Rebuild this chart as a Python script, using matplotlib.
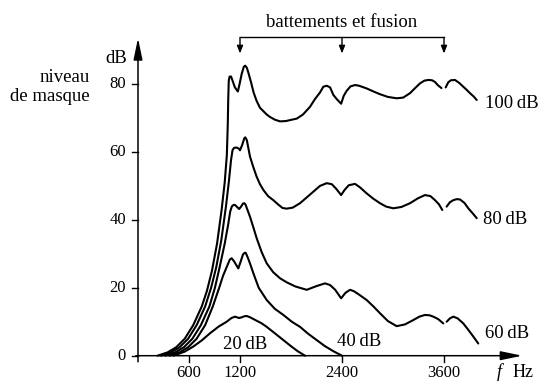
"""Masking curves of a harmonic complex: masking level vs frequency for several masker levels."""

import matplotlib.pyplot as plt

NAN = float("nan")

# 100 dB masker (NaN = break in the curve near 3600 Hz)
freq_100 = [230, 350, 450, 550, 650, 750, 810, 870, 930, 984, 1020, 1045, 1056, 1062, 1068,
            1078, 1095, 1115, 1140, 1175, 1195, 1220, 1245, 1262, 1280, 1300, 1330, 1360, 1396,
            1435, 1475, 1515, 1553, 1610, 1671, 1740, 1810, 1867, 1940, 2024, 2080, 2141, 2180,
            2220, 2260, 2298, 2340, 2390, 2420, 2455, 2500, 2553, 2600, 2690, 2770, 2847, 2940,
            3043, 3120, 3200, 3260, 3318, 3370, 3416, 3460, 3494, 3530, 3570, NAN,
            3620, 3650, 3680, 3729, 3780, 3827, 3870, 3906, 3950, 3985]
level_100 = [0, 1, 2.5, 5, 9, 14.5, 19, 25, 33, 43, 51, 59, 68, 76, 81,
             82.2, 82.2, 80.8, 79, 77.8, 80, 83, 85.1, 85.4, 84.8, 83.2, 80.5, 77.5, 75,
             73, 72, 71, 70.3, 69.5, 69, 69.1, 69.5, 69.8, 71, 73.3, 75.5, 77.5, 79.2,
             79.5, 79, 76.8, 75.5, 74.2, 76.5, 78, 79.3, 79.7, 79.5, 78.7, 77.8, 77, 76.2,
             75.8, 76, 77.3, 78.8, 80.2, 81, 81.2, 81.1, 80.6, 79.6, 78.8, NAN,
             79, 80.5, 81.1, 81.2, 80.3, 79.2, 78.2, 77.3, 76.3, 75.3]

# 80 dB masker
freq_80 = [270, 390, 490, 590, 690, 790, 860, 920, 980, 1035, 1070, 1094, 1112, 1130, 1160,
           1185, 1200, 1225, 1250, 1262, 1280, 1318, 1357, 1396, 1435, 1475, 1530, 1592, 1650,
           1700, 1749, 1820, 1906, 1980, 2063, 2141, 2220, 2280, 2330, 2390, 2430, 2480, 2553,
           2610, 2690, 2770, 2847, 2920, 3004, 3100, 3200, 3290, 3376, 3440, 3494, 3540, 3580, NAN,
           3631, 3670, 3710, 3750, 3788, 3840, 3886, 3935, 3985]
level_80 = [0, 1, 2.5, 5, 9, 14.5, 20, 26, 34, 44, 51.5, 57.5, 60.5, 61.2, 61.3,
            61, 60.5, 62, 64, 64.3, 63.5, 58.6, 55.5, 52.7, 50.5, 48.8, 47, 45.8, 44.5,
            43.5, 43.3, 43.6, 44.9, 46.5, 48.3, 50, 50.8, 50.5, 49.2, 47.3, 48.8, 50.2, 50.6,
            49.6, 47.8, 46.2, 44.9, 43.9, 43.4, 43.8, 44.9, 46.3, 47.3, 47, 45.8, 44.6, 42.9, NAN,
            43.9, 45.2, 45.8, 46.1, 46, 45, 43.4, 42, 40.5]

# 60 dB masker
freq_60 = [320, 440, 540, 640, 740, 840, 905, 960, 1020, 1060, 1085, 1105, 1125, 1141, 1165,
           1190, 1215, 1235, 1250, 1265, 1290, 1318, 1357, 1396, 1455, 1514, 1590, 1671, 1750,
           1850, 1985, 2100, 2200, 2260, 2320, 2390, 2440, 2494, 2540, 2600, 2690, 2770, 2847,
           2940, 3043, 3140, 3239, 3310, 3376, 3430, 3474, 3530, 3592, NAN,
           3631, 3670, 3710, 3760, 3827, 3880, 3940, 4003]
level_60 = [0, 1, 2.5, 5, 9, 14.5, 20, 26, 33, 38.5, 42.5, 44, 44.4, 44.4, 43.8,
            43.2, 44, 44.8, 44.9, 44.5, 42.8, 40.9, 37.8, 34.6, 30.5, 27.2, 24.6, 22.8, 21.6,
            20.4, 19.4, 20.5, 21.3, 20.8, 19.4, 16.9, 18.5, 19.4, 19, 18, 16.4, 14.5, 12.5,
            10.2, 8.7, 9.2, 10.5, 11.5, 12, 11.9, 11.5, 10.8, 9.5, NAN,
            10, 11, 11.5, 11, 9.5, 7.8, 5.8, 3.6]

# 40 dB masker
freq_40 = [370, 490, 590, 690, 790, 880, 955, 1000, 1050, 1080, 1102, 1130, 1180, 1205, 1235,
           1255, 1267, 1290, 1320, 1357, 1420, 1514, 1610, 1710, 1810, 1906, 2000, 2102, 2200,
           2300, 2400]
level_40 = [0, 1, 2.5, 5, 9, 14.5, 20, 23.5, 26.5, 28.3, 28.7, 27.8, 25.7, 27.5, 29.8,
            30.3, 30.3, 29, 27, 24.3, 20, 16.4, 13.8, 12, 10, 8.5, 6.5, 4.6, 2.8,
            1.3, 0]

# 20 dB masker
freq_20 = [415, 550, 651, 750, 847, 950, 1043, 1100, 1141, 1165, 1190, 1220, 1250, 1278, 1320,
           1380, 1450, 1514, 1610, 1710, 1800, 1880, 1965]
level_20 = [0, 1.2, 2.7, 4.5, 6.6, 8.6, 10, 11.1, 11.5, 11.3, 11.1, 11.3, 11.6, 11.7, 11.3,
            10.5, 9.6, 8.5, 6.6, 4.6, 2.8, 1.3, 0]

x_ticks = [600, 1200, 2400, 3600]
y_ticks = [0, 20, 40, 60, 80]
beat_freqs = [1200, 2400, 3600]

SERIF = ["Liberation Serif", "DejaVu Serif"]


def main() -> None:
    fig = plt.figure(figsize=(5.39, 3.81), dpi=100)
    ax = fig.add_axes([0, 0, 1, 1])
    ax.set_xlim(-1623.5, 4717.6)
    ax.set_ylim(-7.45, 104.74)
    ax.axis("off")

    for freqs, levels in [(freq_100, level_100), (freq_80, level_80), (freq_60, level_60),
                          (freq_40, level_40), (freq_20, level_20)]:
        ax.plot(freqs, levels, color="black", lw=1.5, solid_joinstyle="round",
                solid_capstyle="round")

    # axes with arrows
    ax.annotate("", xy=(4520, 0), xytext=(-25, 0),
                arrowprops=dict(arrowstyle="-|>,head_length=1.3,head_width=0.27", lw=1.1,
                                color="black", shrinkA=0, shrinkB=0, mutation_scale=10))
    ax.annotate("", xy=(0, 93.5), xytext=(0, -1.8),
                arrowprops=dict(arrowstyle="-|>,head_length=1.3,head_width=0.27", lw=1.1,
                                color="black", shrinkA=0, shrinkB=0, mutation_scale=10))

    for t in y_ticks:
        ax.plot([-70, 0], [t, t], color="black", lw=1.0)
        ax.text(-141, t, str(t), ha="right", va="center", fontsize=12, family=SERIF)
    for t in x_ticks:
        ax.plot([t, t], [0, -1.9], color="black", lw=1.0)
        ax.text(t, -5.2, str(t), ha="center", va="center", fontsize=12, family=SERIF)

    ax.text(-133, 87.6, "dB", ha="right", va="center", fontsize=13.5, family=SERIF)
    ax.text(-565, 82, "niveau", ha="right", va="center", fontsize=13.5, family=SERIF)
    ax.text(-565, 76.4, "de masque", ha="right", va="center", fontsize=13.5, family=SERIF)
    ax.text(4247, -4.9, "f", ha="center", va="center", fontsize=13, family=SERIF,
            style="italic")
    ax.text(4529, -4.9, "Hz", ha="center", va="center", fontsize=13, family=SERIF)

    ax.text(4082, 74.4, "100\u2009dB", ha="left", va="center", fontsize=13.5, family=SERIF)
    ax.text(4059, 40, "80\u2009dB", ha="left", va="center", fontsize=13.5, family=SERIF)
    ax.text(4082, 6.4, "60\u2009dB", ha="left", va="center", fontsize=13.5, family=SERIF)
    ax.text(2341, 4.3, "40\u2009dB", ha="left", va="center", fontsize=13.5, family=SERIF)
    ax.text(1000, 3.2, "20\u2009dB", ha="left", va="center", fontsize=13.5, family=SERIF)

    # beats / fusion bracket
    ax.text(2400, 98.0, "battements et fusion", ha="center", va="center", fontsize=13.5,
            family=SERIF)
    ax.plot([beat_freqs[0], beat_freqs[-1]], [93.7, 93.7], color="black", lw=1.0)
    for f in beat_freqs:
        ax.annotate("", xy=(f, 89), xytext=(f, 93.7),
                    arrowprops=dict(arrowstyle="-|>,head_length=0.45,head_width=0.18", lw=1.0,
                                    color="black", shrinkA=0, shrinkB=0, mutation_scale=10))

    fig.savefig("out.png", dpi=100, facecolor="white")
    plt.close(fig)


if __name__ == "__main__":
    main()
